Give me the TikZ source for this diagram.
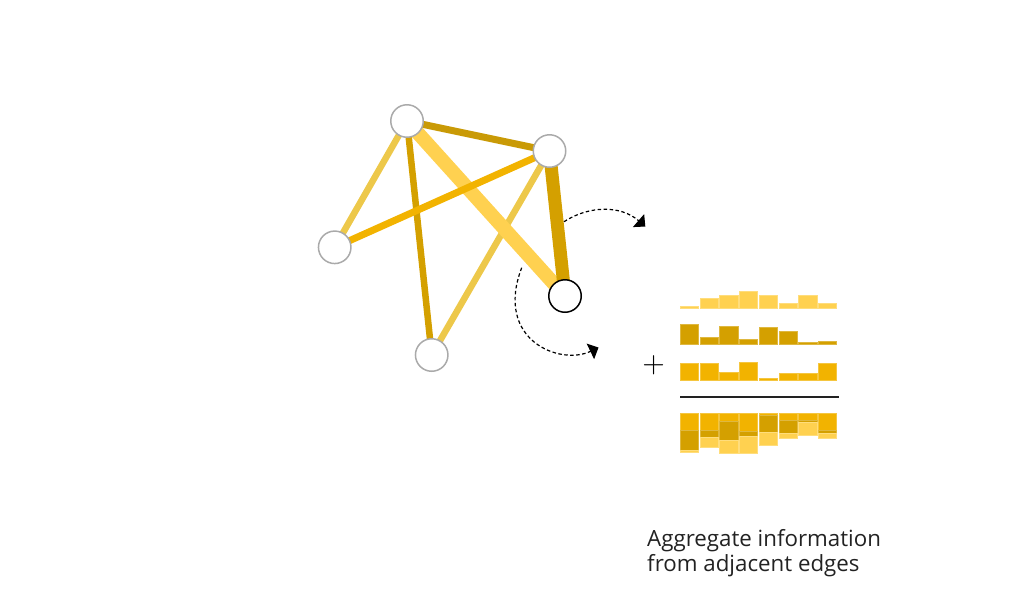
\documentclass[tikz,border=0pt]{standalone}
\usepackage{fontspec}
\setmainfont{Open Sans}
\usetikzlibrary{arrows.meta}
\pgfdeclarelayer{bg}
\pgfsetlayers{bg,main}
\definecolor{ylight}{HTML}{FFD150}
\definecolor{ydark}{HTML}{D4A000}
\definecolor{ymid}{HTML}{F2B300}
\definecolor{ymustard}{HTML}{EDC84A}
\definecolor{yolive}{HTML}{C99A06}
\definecolor{ngray}{HTML}{AAAAAA}
\definecolor{txt}{HTML}{222222}
\begin{document}
\begin{tikzpicture}[x=1pt,y=-1pt,
  gnode/.style={circle,draw=ngray,fill=white,line width=1.5pt,minimum size=32.5pt,inner sep=0pt},
  selnode/.style={gnode,draw=black},
  darrow/.style={dash pattern=on 3.5pt off 2.5pt,line width=1.2pt,-{Triangle[length=9pt,width=17pt]}},
  barL/.style={fill=ylight,draw=ylight!75!white,line width=0.4pt},
  barD/.style={fill=ydark,draw=ydark!75!white,line width=0.4pt},
  barM/.style={fill=ymid,draw=ymid!75!white,line width=0.4pt}]
\useasboundingbox (0,0) rectangle (1024,598);
% graph nodes
\node[gnode] (A) at (407,121) {};
\node[gnode] (B) at (549.5,151) {};
\node[gnode] (C) at (334.7,247.3) {};
\node[gnode] (D) at (431.7,355) {};
\node[selnode] (E) at (565,296) {};
% edges
\begin{pgfonlayer}{bg}
\draw[ymustard,line width=6.5pt] (A.center) -- (C.center);
\draw[ymustard,line width=6.5pt] (B.center) -- (D.center);
\draw[ydark,line width=6.5pt] (A.center) -- (D.center);
\draw[ylight,line width=14pt] (A.center) -- (E.center);
\draw[ymid,line width=7pt] (B.center) -- (C.center);
\draw[yolive,line width=7pt] (A.center) -- (B.center);
\draw[ydark,line width=13pt] (B.center) -- (E.center);
\end{pgfonlayer}
% dashed arrows
\draw[darrow] (564,221.7) .. controls (588,206) and (620,204.5) .. (645.3,226.5);
\draw[darrow] (521.7,267.7) .. controls (494,340) and (560,366) .. (598.5,347.5);
% bars
\foreach \a/\b/\c [count=\i from 0] in {2/20/16.7,10/6.7/16.7,13/18.3/8.3,16.3/5/18.3,13/16.7/1.7,4.7/13.3/6.7,13/2/6.7,4.7/3.3/16.7}{
  \pgfmathsetmacro{\xx}{680+19.75*\i}
  \fill[barL] (\xx,307.7) rectangle ++(18.4,-\a);
  \fill[barD] (\xx,344) rectangle ++(18.4,-\b);
  \fill[barM] (\xx,380.3) rectangle ++(18.4,-\c);
  \fill[barM] (\xx,413.3) rectangle ++(18.4,\c);
  \fill[barD] (\xx,413.3+\c) rectangle ++(18.4,\b);
  \fill[barL] (\xx,413.3+\c+\b) rectangle ++(18.4,\a);
}
\coordinate (s1) at (680,396.7);
\coordinate (s2) at (839,396.7);
\draw[line width=2pt,color=txt] (s1) -- (s2);
\node[scale=2.9,inner sep=0pt] (plus) at (653.7,365) {$+$};
\node[anchor=base west,align=left,inner sep=0pt,text=txt,font=\fontsize{22.3}{25.7}\selectfont] (lbl) at (647,571.7) {Aggregate information\\from adjacent edges};
\end{tikzpicture}
\end{document}
